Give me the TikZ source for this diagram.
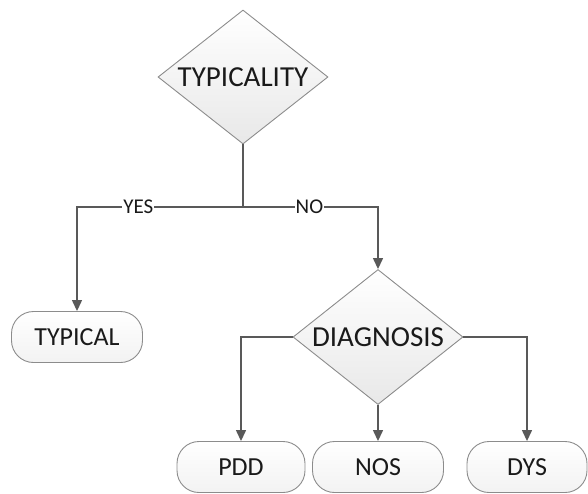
\documentclass[tikz,border=0pt]{standalone}
\usepackage{fontspec}
\setmainfont{Carlito}
\usetikzlibrary{shapes.geometric,arrows.meta}
\definecolor{linegray}{HTML}{595959}
\definecolor{edgegray}{HTML}{8C8C8C}
\definecolor{inkgray}{HTML}{1A1A1A}
\begin{document}
\begin{tikzpicture}[x=1pt,y=-1pt,
  decision/.style={diamond,draw=edgegray,line width=0.9pt,top color=white,bottom color=gray!18,
    inner sep=0pt,aspect=1.27,minimum width=170pt,minimum height=134pt,
    text=inkgray,font=\fontsize{29}{33}\selectfont},
  leaf/.style={rectangle,rounded corners=22pt,draw=edgegray,line width=0.9pt,top color=white,bottom color=gray!10,
    inner sep=0pt,minimum height=51pt,text=inkgray,font=\fontsize{26}{30}\selectfont},
  conn/.style={draw=linegray,line width=1.3pt},
  arr/.style={conn,-{Triangle[width=10pt,length=11pt]}},
  lbl/.style={fill=white,inner sep=1pt,text=inkgray,font=\fontsize{21}{24}\selectfont}]
\useasboundingbox (0,0) rectangle (588,493);
\node[decision] (typ) at (243,77) {TYPICALITY};
\coordinate (j) at (243,207);
\node[leaf,minimum width=131pt] (typical) at (77,337) {TYPICAL};
\node[decision,minimum height=135pt] (diag) at (378,337) {DIAGNOSIS};
\node[leaf,minimum width=128pt] (pdd) at (241,467) {PDD};
\node[leaf,minimum width=131pt] (nos) at (378,467) {NOS};
\node[leaf,minimum width=120pt] (dys) at (527,467) {DYS};
%\draw (243,207) node {$\bullet$};
\draw[conn] (typ.south) -- (j);
\draw[arr] (j) -| node[lbl,pos=0.315] {YES} (typical.north);
\draw[arr] (j) -| node[lbl,pos=0.246] {NO} (diag.north);
\draw[arr] (diag.west) -| (pdd.north);
\draw[arr] (diag.south) -- (nos.north);
\draw[arr] (diag.east) -| (dys.north);
\end{tikzpicture}
\end{document}
